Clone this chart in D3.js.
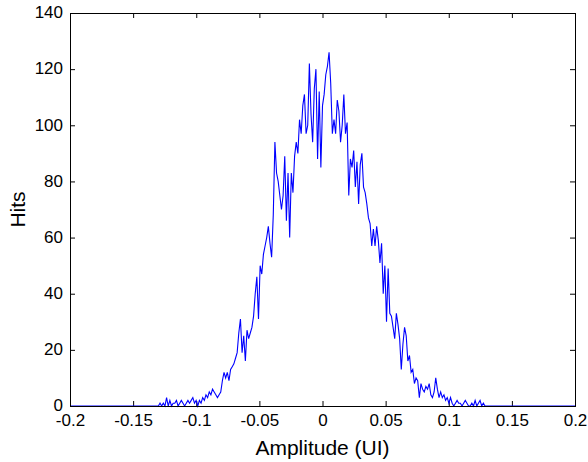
<!DOCTYPE html>
<html>
<head>
<meta charset="utf-8">
<script src="https://cdn.jsdelivr.net/npm/d3@7"></script>
<style>
  body { margin: 0; background: #fff; }
  text { font-family: "Liberation Sans", Arial, sans-serif; fill: #000; }
</style>
</head>
<body>
<div id="chart"></div>
<script>
var width = 588;
var height = 462;

// histogram bins (MATLAB style hist output)
var binStart = -0.130;
var binWidth = 0.0013;
var hits = [
  0, 1, 0, 1, 0, 3, 0, 2, 0, 1,
  1, 2, 0, 1, 2, 1, 0, 1, 2, 1,
  2, 3, 1, 2, 0, 2, 1, 3, 2, 4,
  3, 5, 4, 6, 5, 4, 3, 4, 5, 9,
  12, 10, 12, 9, 13, 14, 15, 17, 19, 26,
  31, 19, 25, 16, 27, 24, 26, 28, 32, 40,
  46, 31, 50, 47, 54, 57, 60, 64, 58, 53,
  68, 94, 83, 80, 75, 70, 75, 89, 66, 83,
  60, 83, 76, 89, 94, 90, 102, 97, 107, 111,
  97, 100, 122, 104, 94, 113, 120, 88, 112, 85,
  107, 111, 118, 121, 126, 115, 97, 102, 97, 109,
  105, 94, 100, 111, 97, 101, 75, 88, 85, 91,
  78, 87, 72, 86, 90, 78, 76, 72, 67, 65,
  57, 63, 57, 64, 59, 51, 58, 40, 50, 30,
  49, 33, 32, 28, 24, 33, 29, 24, 13, 22,
  28, 25, 16, 18, 12, 13, 8, 10, 9, 3,
  8, 6, 5, 7, 6, 8, 4, 3, 5, 10,
  6, 3, 5, 3, 4, 2, 3, 1, 3, 1,
  0, 1, 2, 1, 1, 0, 1, 2, 1, 0,
  0, 1, 0, 2, 0, 1, 2, 0, 1, 0
];
// flat zero line out to the axis limits
var edgeAmplitude = [-0.2, 0.2];
var edgeHits = [0, 0];

var xTicks = [-0.2, -0.15, -0.1, -0.05, 0, 0.05, 0.1, 0.15, 0.2];
var yTicks = [0, 20, 40, 60, 80, 100, 120, 140];

var margin = { left: 70, right: 13, top: 13, bottom: 56 };

function buildPoints() {
  var pts = [{ x: edgeAmplitude[0], y: edgeHits[0] }];
  hits.forEach(function(h, i) {
    pts.push({ x: binStart + i * binWidth, y: h });
  });
  pts.push({ x: edgeAmplitude[1], y: edgeHits[1] });
  return pts;
}

function createChart() {
  var svg = d3.select("#chart").append("svg")
    .attr("width", width)
    .attr("height", height);

  var x0 = margin.left, x1 = width - margin.right;
  var y0 = height - margin.bottom, y1 = margin.top;

  var x = d3.scaleLinear().domain([-0.2, 0.2]).range([x0, x1]);
  var y = d3.scaleLinear().domain([0, 140]).range([y0, y1]);

  // ticks inside on all four sides
  var tl = 5;
  var bottom = d3.axisBottom(x).tickValues(xTicks).tickSizeInner(-tl).tickSizeOuter(0)
    .tickPadding(8).tickFormat(function(v) { return String(v); });
  var top = d3.axisTop(x).tickValues(xTicks).tickSizeInner(-tl).tickSizeOuter(0).tickFormat("");
  var left = d3.axisLeft(y).tickValues(yTicks).tickSizeInner(-tl).tickSizeOuter(0)
    .tickPadding(7).tickFormat(d3.format("d"));
  var right = d3.axisRight(y).tickValues(yTicks).tickSizeInner(-tl).tickSizeOuter(0).tickFormat("");

  var gb = svg.append("g").attr("transform", "translate(0," + y0 + ")").call(bottom);
  var gt = svg.append("g").attr("transform", "translate(0," + y1 + ")").call(top);
  var gl = svg.append("g").attr("transform", "translate(" + x0 + ",0)").call(left);
  var gr = svg.append("g").attr("transform", "translate(" + x1 + ",0)").call(right);

  [gb, gt, gl, gr].forEach(function(g) {
    g.selectAll(".domain").remove();
    g.selectAll("line").attr("stroke", "#000").attr("stroke-width", 1);
    g.selectAll("text").style("font-size", "17px").attr("fill", "#000");
  });
  // MATLAB sits the bottom y label a touch higher
  gl.selectAll("text").attr("dy", "0.28em");

  var line = d3.line()
    .x(function(d) { return x(d.x); })
    .y(function(d) { return y(d.y); });

  svg.append("path")
    .datum(buildPoints())
    .attr("d", line)
    .attr("fill", "none")
    .attr("stroke", "#0000ff")
    .attr("stroke-width", 1.1);

  // axes box
  svg.append("rect")
    .attr("x", x0 + 0.5).attr("y", y1 + 0.5)
    .attr("width", x1 - x0).attr("height", y0 - y1)
    .attr("fill", "none").attr("stroke", "#000").attr("stroke-width", 1);

  svg.append("text")
    .attr("x", (x0 + x1) / 2).attr("y", 455)
    .attr("text-anchor", "middle")
    .style("font-size", "21px")
    .text("Amplitude (UI)");

  svg.append("text")
    .attr("transform", "translate(25," + ((y0 + y1) / 2) + ") rotate(-90)")
    .attr("text-anchor", "middle")
    .style("font-size", "21px")
    .text("Hits");
}

window.onload = function() {
  createChart();
};
</script>
</body>
</html>
